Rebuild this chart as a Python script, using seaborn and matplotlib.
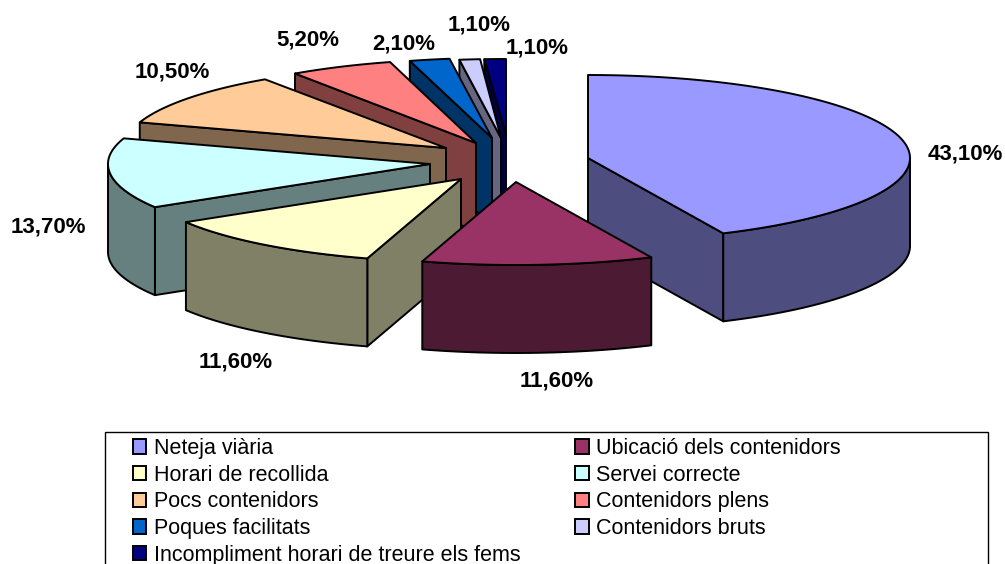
import numpy as np
import matplotlib
matplotlib.use("Agg")
import matplotlib.pyplot as plt
from matplotlib.patches import Polygon, Patch, Rectangle
import seaborn as sns

categories = ["Neteja viària", "Ubicació dels contenidors", "Horari de recollida",
              "Servei correcte", "Pocs contenidors", "Contenidors plens",
              "Poques facilitats", "Contenidors bruts",
              "Incompliment horari de treure els fems"]
values = [43.1, 11.6, 11.6, 13.7, 10.5, 5.2, 2.1, 1.1, 1.1]
hex_colors = ["#9999FF", "#993366", "#FFFFCC", "#CCFFFF", "#FFCC99",
              "#FF8080", "#0066CC", "#CCCCFF", "#000080"]

# exploded apex of every slice and its projected radii (pixels)
apex_x = [588, 516, 461, 430, 446, 476, 492, 501, 506]
apex_y = [158, 182, 179, 164, 148, 143, 138, 138, 135]
radius_x = [322, 322, 322, 322, 322, 322, 308, 302, 314]
radius_y = [83, 83, 83, 83, 83, 84, 80, 79, 76]
label_x = [965, 557, 236, 48, 172, 308, 404, 479, 537]
label_y = [154, 381, 362, 227, 72, 40, 44, 25, 48]
DEPTH = 88
LW = 1.4

sns.set_theme(style="white")
plt.rcParams["font.family"] = ["Liberation Sans", "DejaVu Sans"]
palette = sns.color_palette(hex_colors)

fig = plt.figure(figsize=(10.05, 5.64), dpi=100)
ax = fig.add_axes([0, 0, 1, 1])
ax.set_xlim(0, 1005)
ax.set_ylim(564, 0)
ax.axis("off")

edges = np.concatenate([[0], np.cumsum(values)]) * 360 / sum(values)


def point(i, deg):
    t = np.radians(deg)
    return apex_x[i] + radius_x[i] * np.sin(t), apex_y[i] - radius_y[i] * np.cos(t)


def add(pts, color, z):
    ax.add_patch(Polygon(pts, closed=True, facecolor=color, edgecolor="black",
                         linewidth=LW, joinstyle="round", zorder=z))


def radial_wall(i, deg, color, z):
    x, y = point(i, deg)
    add([(apex_x[i], apex_y[i]), (x, y), (x, y + DEPTH),
         (apex_x[i], apex_y[i] + DEPTH)], color, z)


# painter's order: back slices first, the front one last
order = [8, 7, 6, 5, 4, 3, 2, 0, 1]
for rank, i in enumerate(order):
    z = 10 + rank * 5
    a0, a1 = edges[i], edges[i + 1]
    top = palette[i]
    side = tuple(c * 0.5 for c in top)
    if np.sin(np.radians(a0)) < 0:
        radial_wall(i, a0, side, z)
    if np.sin(np.radians(a1)) > 0:
        radial_wall(i, a1, side, z)
    f0, f1 = max(a0, 90), min(a1, 270)
    if f1 > f0:
        arc = np.linspace(f0, f1, 60)
        upper = [point(i, d) for d in arc]
        lower = [(x, y + DEPTH) for x, y in upper][::-1]
        add(upper + lower, side, z + 1)
    arc = np.linspace(a0, a1, 120)
    add([(apex_x[i], apex_y[i])] + [point(i, d) for d in arc], top, z + 2)

for v, x, y in zip(values, label_x, label_y):
    ax.text(x, y, f"{v:.2f}".replace(".", ",") + "%", ha="center", va="center",
            fontsize=16, fontweight="bold", color="black", zorder=100)

# legend box (its lower edge falls on the image border)
ax.add_patch(Rectangle((105, 432), 883, 140, facecolor="white", edgecolor="black",
                       linewidth=1.0, zorder=1))

handles = [Patch(facecolor=c, edgecolor="black", linewidth=1.4) for c in palette]
fill_order = [0, 2, 4, 6, 8, 1, 3, 5, 7]
leg = ax.legend([handles[k] for k in fill_order], [categories[k] for k in fill_order],
                ncol=2, frameon=False, loc="upper left",
                bbox_to_anchor=(132.5 / 1005, 1 - 438 / 564),
                bbox_transform=fig.transFigure, labelcolor="black",
                fontsize=15.5, borderpad=0, borderaxespad=0, labelspacing=0.265,
                handlelength=0.65, handleheight=0.65, handletextpad=0.33,
                columnspacing=2.55)
leg.set_zorder(100)

fig.savefig("out.png", dpi=100)
